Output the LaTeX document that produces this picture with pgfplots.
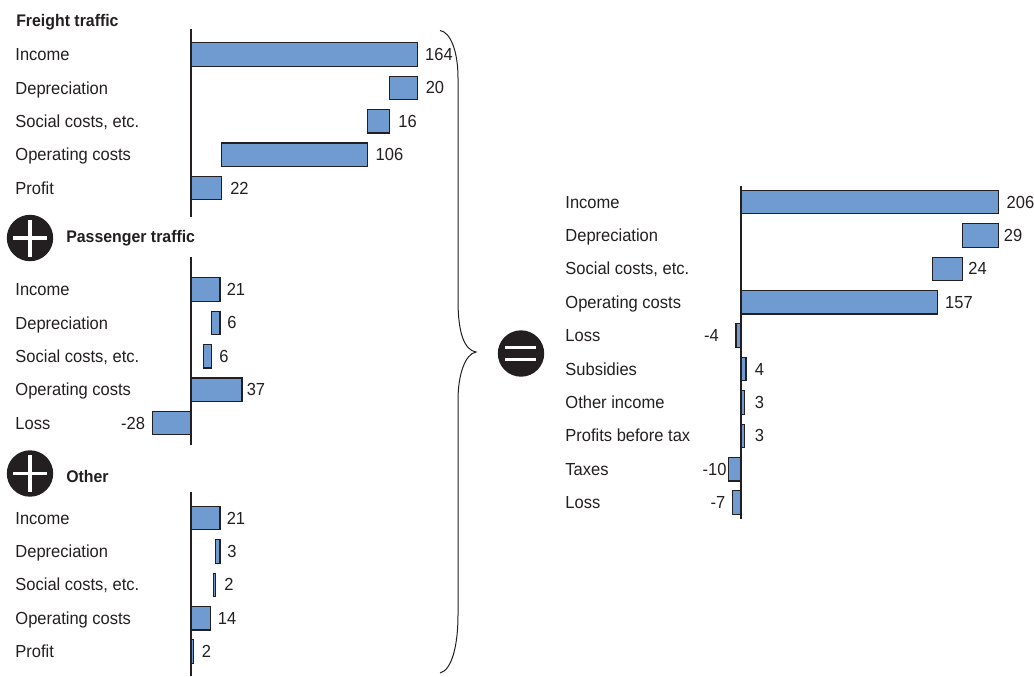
\documentclass[border=0pt]{standalone}
\usepackage{fontspec}
\setmainfont[FakeStretch=0.945]{Liberation Sans}
\usepackage{pgfplots}
\usepackage{pgfplotstable}
\pgfplotsset{compat=1.18}

\definecolor{barblue}{HTML}{6F9BD1}
\definecolor{ink}{HTML}{231F20}

% columns: row, hidden offset, visible length, label centre, label text
\pgfplotstableread{
row off val lx lab
0 0 164 179.7 164
1 144 20 176.8 20
2 128 16 156.9 16
3 22 106 143.8 106
4 0 22 35.1 22
}\freight
\pgfplotstableread{
row off val lx lab
0 0 21 32.6 21
1 15 6 29.7 6
2 9 6 23.9 6
3 0 37 47.1 37
4 0 -28 -42.0 -28
}\passenger
\pgfplotstableread{
row off val lx lab
0 0 21 32.6 21
1 18 3 29.7 3
2 16 2 27.5 2
3 0 14 26.1 14
4 0 2 11.2 2
}\otherpart
\pgfplotstableread{
row off val lx lab
0 0 206 223.6 206
1 177 29 217.6 29
2 153 24 189.2 24
3 0 157 174.4 157
4 0 -4 -23.6 -4
5 0 4 14.8 4
6 0 3 14.8 3
7 0 3 14.8 3
8 0 -10 -21.2 -10
9 0 -7 -18.4 -7
}\combined

\newcommand{\barfont}{\fontsize{13.1pt}{15pt}\selectfont}
\newcommand{\headfont}{\fontsize{12.6pt}{15pt}\selectfont\bfseries}

\pgfplotsset{
  panel/.style={
    anchor=origin,
    axis y line=center,
    axis x line=none,
    y dir=reverse,
    y=25.05pt,
    clip=false,
    tick style={draw=none},
    y axis line style={-, draw=ink, line width=1.1pt},
    xtick=\empty,
    ytick={0,...,9},
    yticklabel style={font=\barfont, text=ink, anchor=west, text height=9.5pt, text depth=2.5pt, inner sep=0pt, xshift=-129.75pt, yshift=-1.1pt},
    axis on top,
  },
  piece/.style={xbar, stack plots=x, bar shift=0pt, bar width=17.6pt},
}

% one panel: the hidden offset, the visible bar, then the value labels
\newcommand{\panelplots}[1]{
  \addplot[piece, draw=none, fill=none, forget plot] table[x=off, y=row] {#1};
  \addplot[piece, draw=ink, line width=0.85pt, fill=barblue, forget plot] table[x=val, y=row] {#1};
  \addplot[draw=none, mark=none, forget plot,
    nodes near coords={\pgfplotspointmeta},
    point meta=explicit symbolic,
    nodes near coords style={font=\barfont, text=ink, anchor=center, inner sep=0pt}]
    table[x=lx, y=row, meta=lab] {#1};
}

\begin{document}
\begin{tikzpicture}[x=0.75pt, y=-0.75pt]
\useasboundingbox (0,0) rectangle (1034,676);
\coordinate (freightzero) at (191,54.5);
\coordinate (passengerzero) at (191,289.5);
\coordinate (otherzero) at (191,518);
\coordinate (combinedzero) at (741,202);

% freight traffic
\begin{axis}[panel, at={(freightzero)}, x=1.035pt, xmin=-30, xmax=200,
    ymin=-0.763, ymax=4.865,
    yticklabels={Income,Depreciation,{Social costs, etc.},Operating costs,Profit}]
  \panelplots{\freight}
\end{axis}

% passenger traffic
\begin{axis}[panel, at={(passengerzero)}, x=1.035pt, xmin=-45, xmax=60,
    ymin=-0.97, ymax=4.65,
    yticklabels={Income,Depreciation,{Social costs, etc.},Operating costs,Loss}]
  \panelplots{\passenger}
\end{axis}

% other activities
\begin{axis}[panel, at={(otherzero)}, x=1.035pt, xmin=-30, xmax=60,
    ymin=-0.78, ymax=4.72,
    yticklabels={Income,Depreciation,{Social costs, etc.},Operating costs,Profit}]
  \panelplots{\otherpart}
\end{axis}

% combined result
\begin{axis}[panel, at={(combinedzero)}, x=0.9375pt, xmin=-30, xmax=230,
    ymin=-0.48, ymax=9.48,
    yticklabels={Income,Depreciation,{Social costs, etc.},Operating costs,Loss,Subsidies,Other income,Profits before tax,Taxes,Loss}]
  \panelplots{\combined}
\end{axis}

% panel headings
\node[anchor=west, inner sep=0pt, text=ink, font=\headfont] at (16,22) {Freight traffic};
\node[anchor=west, inner sep=0pt, text=ink, font=\headfont] at (66,238) {Passenger traffic};
\node[anchor=west, inner sep=0pt, text=ink, font=\headfont] at (66,476) {Other};

% plus signs
\foreach \cy in {238,473.5}{
  \fill[ink] (30,\cy) circle[radius=17.4pt];
  \fill[white] (13,\cy-1.8) rectangle (47,\cy+1.8);
  \fill[white] (28.2,\cy-18.5) rectangle (31.8,\cy+18.5);
}
% equals sign
\fill[ink] (521,353.5) circle[radius=17.4pt];
\fill[white] (505,346) rectangle (536,348.5);
\fill[white] (505,358) rectangle (536,360.5);

% brace joining the three parts
\draw[ink, line width=0.75pt]
  (440,30.5) .. controls (450,32) and (458,50) .. (458,78)
  -- (458,300) .. controls (458,335) and (465,350) .. (476,352)
  .. controls (465,354) and (458,375) .. (458,400)
  -- (458,615) .. controls (458,645) and (452,670) .. (440,673);
\end{tikzpicture}
\end{document}
